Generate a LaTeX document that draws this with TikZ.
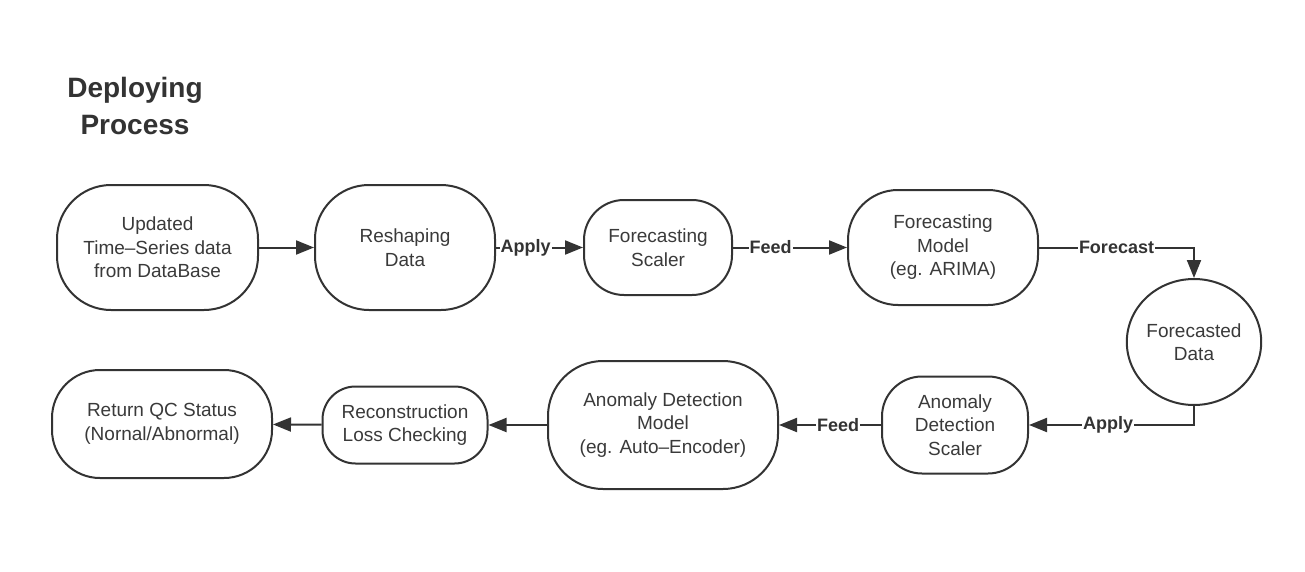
\documentclass[tikz,border=0pt]{standalone}
\usepackage{fontspec}
\setmainfont{Liberation Sans}
\usetikzlibrary{arrows.meta,shapes.geometric}
\definecolor{linec}{HTML}{333333}
\definecolor{textc}{HTML}{3A3A3A}
\begin{document}
\begin{tikzpicture}[x=1pt,y=-1pt,
 box/.style={draw=linec, line width=2pt, rectangle, align=center, text=textc, font=\fontsize{19}{23.5}\selectfont, inner sep=0pt},
 conn/.style={draw=linec, line width=2pt, -{Triangle[length=18pt,width=14pt]}},
 lab/.style={fill=white, text=linec, font=\fontsize{18}{20}\selectfont\bfseries, inner sep=1pt}]
\useasboundingbox[fill=white] (0,0) rectangle (1305,572);
\node[font=\fontsize{28}{37}\selectfont\bfseries, text=linec, align=center] (title) at (135,106) {Deploying\\Process};

\node[box, minimum width=201pt, minimum height=125pt, rounded corners=54pt] (upd) at (157.5,247.5) {Updated\\Time–Series data\\from DataBase};
\node[box, minimum width=180pt, minimum height=125pt, rounded corners=54pt] (resh) at (405,247.5) {Reshaping\\Data};
\node[box, minimum width=148pt, minimum height=95pt, rounded corners=40pt] (fs) at (658,247.5) {Forecasting\\Scaler};
\node[box, minimum width=190pt, minimum height=115pt, rounded corners=50pt] (fm) at (943,247.5) {Forecasting\\Model\\(eg. ARIMA)};
\node[box, ellipse, minimum width=133pt, minimum height=126pt] (fd) at (1194,342) {Forecasted\\Data};
\node[box, minimum width=146pt, minimum height=97pt, rounded corners=40pt] (as) at (955,425) {Anomaly\\Detection\\Scaler};
\node[box, minimum width=230pt, minimum height=128pt, rounded corners=55pt] (am) at (663,425) {Anomaly Detection\\Model\\(eg. Auto–Encoder)};
\node[box, minimum width=165pt, minimum height=77pt, rounded corners=33pt] (rec) at (405,425) {Reconstruction\\Loss Checking};
\node[box, minimum width=220pt, minimum height=108pt, rounded corners=48pt] (ret) at (162,424) {Return QC Status\\(Nornal/Abnormal)};

\draw[conn] (upd) -- (resh);
\draw[conn] (resh) -- node[lab, pos=0.34]{Apply} (fs);
\draw[conn] (fs) -- node[lab, pos=0.33]{Feed} (fm);
\draw[conn] (fm.east) -| node[lab, pos=0.25]{Forecast} (fd.north);
\draw[conn] (fd.south) |- node[lab, pos=0.76]{Apply} (as.east);
\draw[conn] (as) -- node[lab, pos=0.42]{Feed} (am);
\draw[conn] (am) -- (rec);
\draw[conn] (rec) -- (ret);
\end{tikzpicture}
\end{document}
